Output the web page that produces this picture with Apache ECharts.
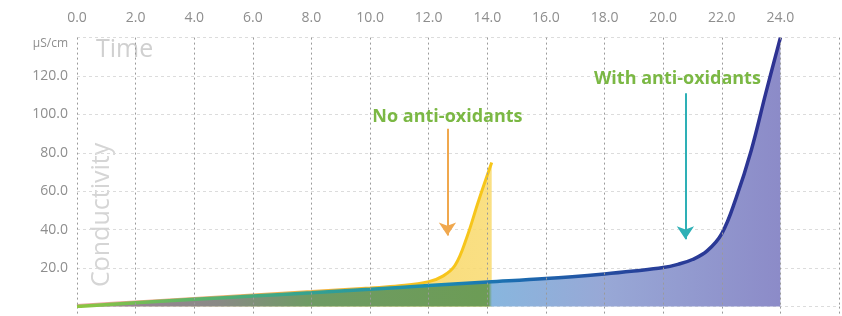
<!DOCTYPE html>
<html>
<head>
<meta charset="utf-8">
<script src="https://cdn.jsdelivr.net/npm/echarts@6/dist/echarts.min.js"></script>
<style>
  html, body { margin: 0; padding: 0; background: #fff; }
  #chart { width: 842px; height: 316px; }
</style>
</head>
<body>
<div id="chart"></div>
<script>
// time (x) vs conductivity (y)
const withAnti = [
  [0, 0], [2, 2], [4, 3.8], [6, 5.5], [8, 7.2], [10, 9], [12, 11], [14, 12.8],
  [16, 14.6], [18, 17], [19, 18.5], [20, 20.3], [20.5, 22], [21, 24.5], [21.5, 29],
  [22, 38], [22.5, 57], [23, 81], [23.5, 111], [24, 140]
]
const noAnti = [
  [0, 0.6], [2, 2.4], [4, 4.2], [6, 6], [8, 7.8], [10, 9.7], [11, 10.8],
  [12, 13], [12.5, 16], [12.9, 21.5], [13.3, 36], [13.7, 55], [14.15, 75]
]
// arrows: [x, from, to]
const arrowNo = [12.64, 92.5, 37]
const arrowWith = [20.76, 111, 35]
const xTicks = [0, 2, 4, 6, 8, 10, 12, 14, 16, 18, 20, 22, 24]
const yTicks = [20, 40, 60, 80, 100, 120]

const font = 'Open Sans'
const myChart = echarts.init(document.getElementById('chart'))

const grad = (stops) => new echarts.graphic.LinearGradient(0, 0, 1, 0,
  stops.map(s => ({ offset: s[0], color: s[1] })))

myChart.setOption({
  animation: false,
  textStyle: { fontFamily: font },
  grid: { left: 77, right: 2, top: 37.6, bottom: 9.4 },
  graphic: [
    { type: 'text', left: 96, top: 37, z: 0,
      style: { text: 'Time', fill: '#d0d0d0', font: '25px "Open Sans"' } },
    { type: 'text', x: 89, y: 287, rotation: Math.PI / 2, z: 0,
      style: { text: 'Conductivity', fill: '#d5d5d5', font: '25px "Open Sans"' } }
  ],
  xAxis: [{
    type: 'value',
    position: 'top',
    min: 0,
    max: 26,
    interval: 2,
    z: 5,
    axisLine: { show: false },
    axisTick: { show: false },
    axisLabel: {
      color: '#8e8e8e', fontSize: 14, margin: 13,
      formatter: v => (xTicks.includes(v) ? v.toFixed(1) : '')
    },
    splitLine: { show: true, lineStyle: { color: '#9a9a9a', type: [2, 3], width: 1 } }
  }, {
    type: 'value',
    position: 'bottom',
    min: 0,
    max: 26,
    interval: 2,
    axisLine: { show: false },
    axisLabel: { show: false },
    splitLine: { show: false },
    axisTick: { show: true, length: 10, lineStyle: { color: '#9a9a9a', type: [2, 3] } }
  }],
  yAxis: {
    type: 'value',
    min: 0,
    max: 140,
    interval: 20,
    axisLine: { show: false },
    axisTick: { show: false },
    axisLabel: {
      color: '#8e8e8e', fontSize: 14, margin: 9,
      formatter: v => {
        if (v === 140) return '{u|μS/cm}'
        return yTicks.includes(v) ? v.toFixed(1) : ''
      },
      rich: { u: { fontSize: 12, color: '#8e8e8e', padding: [12, 0, 0, 0], fontFamily: font } }
    },
    splitLine: { show: true, lineStyle: { color: '#dcdcdc', type: [3, 3], width: 1 } }
  },
  series: [
    {
      name: 'No anti-oxidants',
      type: 'line',
      data: noAnti,
      z: 2,
      smooth: 0.4,
      showSymbol: false,
      lineStyle: {
        width: 3,
        color: grad([[0, '#e9a0a8'], [0.6, '#f2b33c'], [0.85, '#f7c41c'], [1, '#f6c61a']])
      },
      areaStyle: {
        opacity: 1,
        color: grad([[0, 'rgba(240,200,120,0.3)'], [0.8, 'rgba(248,214,100,0.85)'], [1, 'rgba(249,218,110,0.85)']])
      }
    },
    {
      name: 'With anti-oxidants',
      type: 'line',
      data: withAnti,
      z: 3,
      smooth: 0.4,
      showSymbol: false,
      lineStyle: {
        width: 3.5,
        color: grad([[0, '#8dc63f'], [0.3, '#3aa58a'], [0.5, '#1b8eb2'], [0.62, '#1c6cb0'],
          [0.8, '#27419a'], [1, '#2e3192']])
      },
      areaStyle: {
        opacity: 1,
        color: grad([[0, '#a07f9c'], [0.2, '#8a8a86'], [0.33, '#6f9b64'], [0.585, '#6c9c55'],
          [0.59, '#88b6de'], [0.75, '#98a8d6'], [1, '#8c8bc8']])
      },
      markLine: {
        silent: true,
        symbol: ['none', 'arrow'],
        symbolSize: [13, 13],
        data: [
          [
            { coord: [arrowNo[0], arrowNo[1]],
              lineStyle: { color: '#f0a84e', width: 2, type: 'solid' },
              label: { show: true, position: 'start', formatter: 'No anti-oxidants',
                color: '#7bb844', fontSize: 18, fontWeight: 'bold', distance: 3 } },
            { coord: [arrowNo[0], arrowNo[2]] }
          ],
          [
            { coord: [arrowWith[0], arrowWith[1]],
              lineStyle: { color: '#2eb0b6', width: 2, type: 'solid' },
              label: { show: true, position: 'start', formatter: 'With anti-oxidants',
                color: '#7bb844', fontSize: 18, fontWeight: 'bold', distance: 5,
                padding: [0, 16, 0, 0] } },
            { coord: [arrowWith[0], arrowWith[2]] }
          ]
        ]
      }
    }
  ]
})
</script>
</body>
</html>
